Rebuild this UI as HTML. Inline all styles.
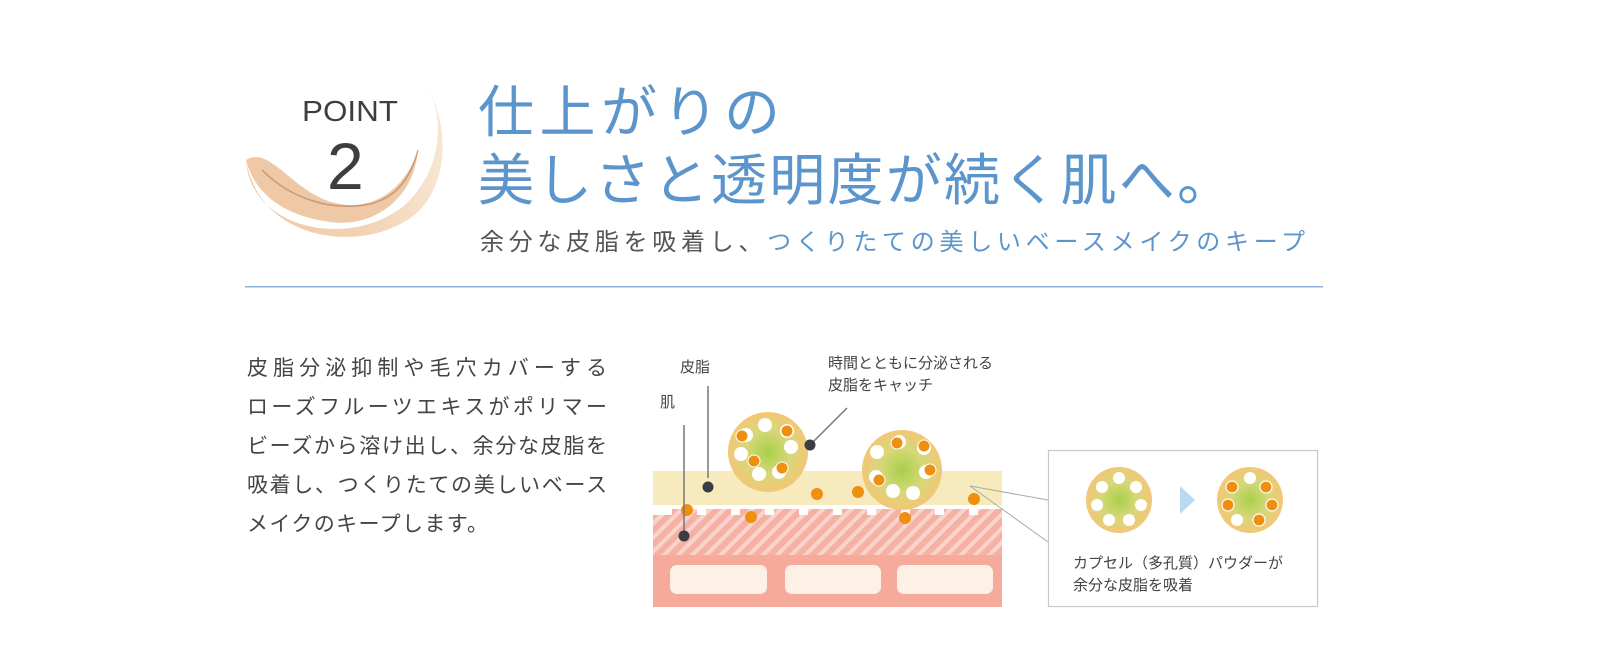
<!DOCTYPE html>
<html><head><meta charset="utf-8"><style>
html,body{margin:0;padding:0;background:#fff;overflow:hidden;width:1600px;height:663px;}
svg{display:block;}
text{font-family:"Liberation Sans","Noto Sans CJK JP",sans-serif;}
</style></head><body>
<svg width="1600" height="663" viewBox="0 0 1600 663" xmlns="http://www.w3.org/2000/svg">
<defs>
<radialGradient id="cap" cx="50%" cy="50%" r="50%">
<stop offset="0" stop-color="#a9cf4a"/><stop offset="0.55" stop-color="#d6d878"/><stop offset="1" stop-color="#f2c777"/>
</radialGradient>
<pattern id="hatch" width="10" height="10" patternUnits="userSpaceOnUse" patternTransform="rotate(45)">
<rect width="10" height="10" fill="#f5b1a4"/><rect width="4" height="10" fill="#fad4cc"/>
</pattern>
<linearGradient id="brush" x1="0" y1="0" x2="1" y2="0">
<stop offset="0" stop-color="#efc9a6"/><stop offset="0.6" stop-color="#f2d2b4"/><stop offset="1" stop-color="#f7e6d2"/>
</linearGradient>
</defs>

<!-- brush arc -->
<path d="M246 160 C250 230 350 250 405 205 C442 170 445 120 428 88 C448 125 450 180 418 212 C370 255 260 245 246 160 Z" fill="url(#brush)"/>
<path d="M246 160 C270 145 292 192 335 203 C372 212 405 190 418 150 C414 200 372 228 330 222 C285 216 255 195 246 160 Z" fill="#efc8a6"/>
<path d="M262 170 C290 198 330 212 370 204 C395 198 410 180 418 150" fill="none" stroke="#9b6b4e" stroke-width="1.5" opacity="0.5"/>

<text x="302" y="121" font-size="29" fill="#3e3e3e" textLength="96" lengthAdjust="spacingAndGlyphs">POINT</text>
<text x="327" y="189" font-size="66" fill="#3e3e3e" font-weight="300">2</text>

<text x="478" y="132" font-size="56" fill="#5b95cc" textLength="302" lengthAdjust="spacing">仕上がりの</text>
<text x="478" y="200" font-size="56" fill="#5b95cc" textLength="755" lengthAdjust="spacing">美しさと透明度が続く肌へ。</text>
<text x="480" y="250" font-size="24" fill="#555" textLength="825" lengthAdjust="spacing">余分な皮脂を吸着し、<tspan fill="#5b95cc">つくりたての美しいベースメイクのキープ</tspan></text>

<rect x="245" y="286" width="1078" height="1.5" fill="#8db2dc"/>

<g font-size="21" fill="#444">
<text x="247" y="375" textLength="360" lengthAdjust="spacing">皮脂分泌抑制や毛穴カバーする</text>
<text x="247" y="414" textLength="360" lengthAdjust="spacing">ローズフルーツエキスがポリマー</text>
<text x="247" y="453" textLength="360" lengthAdjust="spacing">ビーズから溶け出し、余分な皮脂を</text>
<text x="247" y="492" textLength="360" lengthAdjust="spacing">吸着し、つくりたての美しいベース</text>
<text x="247" y="531" textLength="241" lengthAdjust="spacing">メイクのキープします。</text>
</g>

<!-- skin diagram -->
<rect x="653" y="471" width="349" height="34" fill="#f7ebbd"/>
<rect x="653" y="515" width="349" height="40" fill="url(#hatch)"/>
<g fill="url(#hatch)">
<rect x="672" y="509" width="25" height="8"/><rect x="706" y="509" width="25" height="8"/><rect x="740" y="509" width="25" height="8"/><rect x="774" y="509" width="25" height="8"/><rect x="808" y="509" width="25" height="8"/><rect x="842" y="509" width="25" height="8"/><rect x="876" y="509" width="25" height="8"/><rect x="910" y="509" width="25" height="8"/><rect x="944" y="509" width="25" height="8"/><rect x="978" y="509" width="24" height="8"/>
</g>
<rect x="653" y="555" width="349" height="52" fill="#f5aa9c"/>
<rect x="670" y="565" width="97" height="29" rx="7" fill="#fdf0e4"/>
<rect x="785" y="565" width="96" height="29" rx="7" fill="#fdf0e4"/>
<rect x="897" y="565" width="96" height="29" rx="7" fill="#fdf0e4"/>

<!-- callout lines -->
<polyline points="970,486 1048,500" fill="none" stroke="#aaa" stroke-width="1"/>
<polyline points="970,486 1048,542" fill="none" stroke="#aaa" stroke-width="1"/>
<rect x="1048.5" y="450.5" width="269" height="156" fill="#fff" stroke="#c8c8c8" stroke-width="1.2"/>

<!-- capsule 1 -->
<g transform="translate(768,452)">
<circle r="40" fill="url(#cap)"/>
<g fill="#fff"><circle cx="-3" cy="-27" r="7"/><circle cx="-22" cy="-17" r="7"/><circle cx="-27" cy="2" r="7"/><circle cx="23" cy="-5" r="7"/><circle cx="-9" cy="22" r="7"/><circle cx="11" cy="20" r="7"/><circle cx="19" cy="-21" r="7"/></g>
<g fill="#ef8f10" stroke="#fff" stroke-width="1"><circle cx="19" cy="-21" r="6"/><circle cx="-26" cy="-16" r="6"/><circle cx="-14" cy="9" r="6"/><circle cx="14" cy="16" r="6"/></g>
</g>
<!-- capsule 2 -->
<g transform="translate(902,470)">
<circle r="40" fill="url(#cap)"/>
<g fill="#fff"><circle cx="-3" cy="-28" r="7"/><circle cx="-25" cy="-18" r="7"/><circle cx="-26" cy="7" r="7"/><circle cx="24" cy="2" r="7"/><circle cx="-9" cy="21" r="7"/><circle cx="11" cy="23" r="7"/><circle cx="22" cy="-22" r="7"/></g>
<g fill="#ef8f10" stroke="#fff" stroke-width="1"><circle cx="-5" cy="-27" r="6"/><circle cx="22" cy="-24" r="6"/><circle cx="-23" cy="10" r="6"/><circle cx="28" cy="0" r="6"/></g>
</g>

<!-- free sebum dots -->
<g fill="#ef8f10"><circle cx="687" cy="510" r="6"/><circle cx="751" cy="517" r="6"/><circle cx="817" cy="494" r="6"/><circle cx="858" cy="492" r="6"/><circle cx="905" cy="518" r="6"/><circle cx="974" cy="499" r="6"/></g>

<!-- leaders -->
<g stroke="#777" stroke-width="1.5"><line x1="708" y1="386" x2="708" y2="478"/><line x1="684" y1="425" x2="684" y2="535"/><line x1="847" y1="408" x2="810" y2="445"/></g>
<g fill="#3a3d44"><circle cx="708" cy="487" r="5.5"/><circle cx="684" cy="536" r="5.5"/><circle cx="810" cy="445" r="5.5"/></g>

<g font-size="15" fill="#444">
<text x="680" y="372">皮脂</text>
<text x="660" y="407">肌</text>
<text x="828" y="368">時間とともに分泌される</text>
<text x="828" y="390">皮脂をキャッチ</text>
</g>

<!-- box contents -->
<g transform="translate(1119,500)">
<circle r="33" fill="url(#cap)"/>
<g fill="#fff"><circle cx="0" cy="-22" r="6"/><circle cx="-17" cy="-13" r="6"/><circle cx="17" cy="-13" r="6"/><circle cx="-22" cy="5" r="6"/><circle cx="22" cy="5" r="6"/><circle cx="-10" cy="20" r="6"/><circle cx="10" cy="20" r="6"/></g>
</g>
<polygon points="1180,486 1195,500 1180,514" fill="#b9daf1"/>
<g transform="translate(1250,500)">
<circle r="33" fill="url(#cap)"/>
<g fill="#fff"><circle cx="0" cy="-22" r="6"/><circle cx="-13" cy="20" r="6"/></g>
<g fill="#ef8f10" stroke="#fff" stroke-width="1.2"><circle cx="-18" cy="-13" r="6"/><circle cx="16" cy="-13" r="6"/><circle cx="-22" cy="5" r="6"/><circle cx="22" cy="5" r="6"/><circle cx="9" cy="20" r="6"/></g>
</g>
<g font-size="15" fill="#444">
<text x="1073" y="568">カプセル（多孔質）パウダーが</text>
<text x="1073" y="590">余分な皮脂を吸着</text>
</g>
</svg>
</body></html>
